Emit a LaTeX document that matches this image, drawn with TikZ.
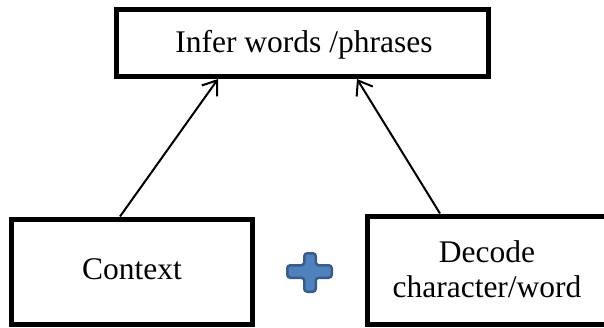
\documentclass[tikz,border=0pt]{standalone}
\usepackage{fontspec}
\setmainfont{Liberation Serif}
\usetikzlibrary{arrows.meta,calc}
\definecolor{plusfill}{HTML}{4F81BD}
\definecolor{plusline}{HTML}{385D8A}
\tikzset{
  boxshape/.style={draw=black, line width=5pt, inner sep=0pt, fill=white},
  lbl/.style={font=\fontsize{31.5}{35}\selectfont, anchor=base, inner sep=0pt},
  link/.style={line width=2pt, -{Straight Barb[length=13pt,width=19pt,line width=2pt]}},
  plusshape/.style={draw=plusline, fill=plusfill, line width=2.5pt, rounded corners=3pt}
}
\begin{document}
\begin{tikzpicture}[x=1pt,y=-1pt]
\useasboundingbox (0,0) rectangle (604,327);
% boxes
\node[boxshape, minimum width=372pt, minimum height=67pt] (top) at (302.5,43) {};
\node[boxshape, minimum width=241pt, minimum height=105pt] (ctx) at (132,271.5) {};
\node[boxshape, minimum width=239pt, minimum height=108.5pt] (dec) at (487,270.25) {};
% texts
\node[lbl] (toptext) at (304,52) {Infer words /phrases};
\node[lbl] (ctxtext) at (132,279) {Context};
\node[lbl] (dectext1) at (487,262) {Decode};
\node[lbl] (dectext2) at (487,297) {character/word};
% connectors
\draw[link] ([xshift=111pt]ctx.north west) -- ([xshift=-84.5pt]top.south);
\draw[link] ([xshift=75pt]dec.north west) -- ([xshift=54.5pt]top.south);
% plus sign
\draw[plusshape] (304.25,253.25) -- (315.75,253.25) -- (315.75,265.25) -- (331.75,265.25)
  -- (331.75,277.75) -- (315.75,277.75) -- (315.75,291.75) -- (304.25,291.75)
  -- (304.25,277.75) -- (287.25,277.75) -- (287.25,265.25) -- (304.25,265.25) -- cycle;
\end{tikzpicture}
\end{document}
